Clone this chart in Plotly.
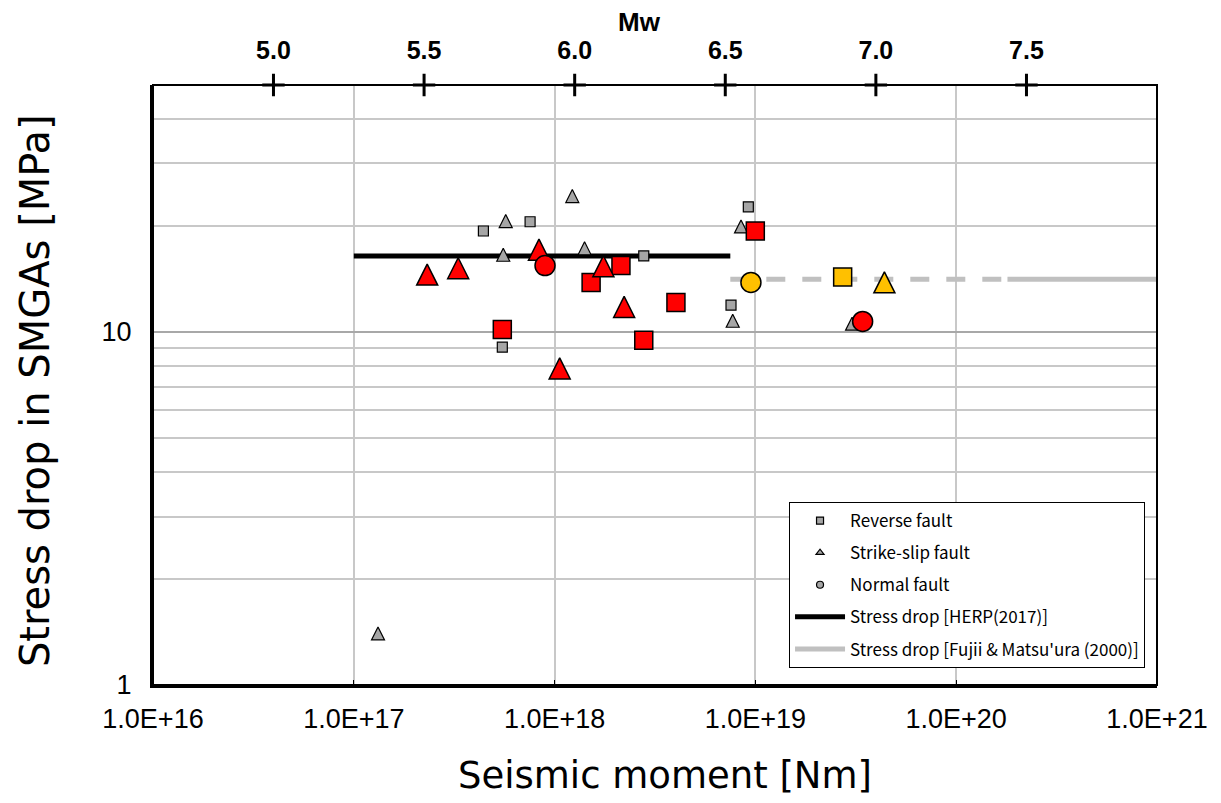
import math
import plotly.graph_objects as go

# ---- data: seismic moment M0 [Nm] and stress drop in SMGAs [MPa] ----
# gray: previous studies
rev_gray_m0 = [4.42e17, 7.55e17, 5.49e17, 2.78e18, 9.22e18, 7.56e18]
rev_gray_sd = [19.3, 20.5, 9.05, 16.4, 22.6, 11.9]
ss_gray_m0 = [1.225e18, 5.71e17, 5.55e17, 1.41e18, 8.48e18, 7.71e18, 1.32e17, 3.03e19]
ss_gray_sd = [23.9, 20.3, 16.3, 17.0, 19.6, 10.6, 1.38, 10.4]

# red
rev_red_m0 = [5.49e17, 1.52e18, 2.14e18, 4.02e18, 2.78e18, 9.99e18]
rev_red_sd = [10.15, 13.8, 15.4, 12.1, 9.47, 19.3]
ss_red_m0 = [2.32e17, 3.31e17, 8.36e17, 1.75e18, 2.22e18, 1.06e18]
ss_red_sd = [14.2, 14.8, 16.7, 15.0, 11.5, 7.70]
nf_red_m0 = [8.96e17, 3.42e19]
nf_red_sd = [15.4, 10.7]

# yellow
rev_yel_m0 = [2.72e19]
rev_yel_sd = [14.3]
ss_yel_m0 = [4.39e19]
ss_yel_sd = [13.5]
nf_yel_m0 = [9.50e18]
nf_yel_sd = [13.8]

# scaling relations
herp_m0 = [1.0e17, 7.5e18]
herp_sd = [16.4, 16.4]
fm_dash_m0 = [7.5e18, 1.8e20]
fm_solid_m0 = [1.8e20, 1.0e21]
fm_sd = [14.1, 14.1]

# axes
x_tickvals = [1e16, 1e17, 1e18, 1e19, 1e20, 1e21]
x_ticktext = ["1.0E+16", "1.0E+17", "1.0E+18", "1.0E+19", "1.0E+20", "1.0E+21"]
y_tickvals = [1, 10]
y_ticktext = ["1", "10"]
y_minor = [2, 3, 4, 5, 6, 7, 8, 9, 20, 30, 40, 50]
mw_ticks = [5.0, 5.5, 6.0, 6.5, 7.0, 7.5]
x_range = [16, 21]
y_range = [0, math.log10(50)]


def m0_to_mw(logm0):
    return (logm0 - 9.1) / 1.5


RED = "#ff0000"
YEL = "#ffc000"
GRAY = "#a6a6a6"
EDGE = dict(color="black", width=1.5)
EDGE_S = dict(color="black", width=1.2)

TICK_FONT = dict(family="Liberation Sans, Arial", size=27, color="black")

fig = go.Figure()


def tri_marker(size, color, edge):
    # upright triangle built from the rotated arrow symbol, re-centred on its centroid
    return dict(symbol="arrow-down", angle=180, standoff=2 * size / 3,
                size=size, color=color, line=edge)


# relations
fig.add_trace(go.Scatter(x=herp_m0, y=herp_sd, mode="lines",
                         line=dict(color="black", width=5),
                         name="Stress drop [HERP(2017)]", legendgroup="d", legendrank=4))
fig.add_trace(go.Scatter(x=fm_dash_m0, y=fm_sd, mode="lines",
                         line=dict(color="#c0c0c0", width=5, dash="19px,17px"),
                         showlegend=False, hoverinfo="skip"))
fig.add_trace(go.Scatter(x=fm_solid_m0, y=fm_sd, mode="lines",
                         line=dict(color="#c0c0c0", width=5),
                         name="Stress drop [Fujii & Matsu'ura (2000)]", legendgroup="e", legendrank=5))

# gray markers
fig.add_trace(go.Scatter(x=rev_gray_m0, y=rev_gray_sd, mode="markers",
                         marker=dict(symbol="square", size=10, color=GRAY, line=EDGE_S),
                         showlegend=False))
fig.add_trace(go.Scatter(x=ss_gray_m0, y=ss_gray_sd, mode="markers",
                         marker=tri_marker(13, GRAY, EDGE_S), showlegend=False))

# yellow and red markers
fig.add_trace(go.Scatter(x=rev_yel_m0, y=rev_yel_sd, mode="markers",
                         marker=dict(symbol="square", size=18, color=YEL, line=EDGE), showlegend=False))
fig.add_trace(go.Scatter(x=ss_yel_m0, y=ss_yel_sd, mode="markers",
                         marker=tri_marker(21, YEL, EDGE), showlegend=False))
fig.add_trace(go.Scatter(x=nf_yel_m0, y=nf_yel_sd, mode="markers",
                         marker=dict(symbol="circle", size=20, color=YEL, line=EDGE), showlegend=False))
fig.add_trace(go.Scatter(x=rev_red_m0, y=rev_red_sd, mode="markers",
                         marker=dict(symbol="square", size=18, color=RED, line=EDGE), showlegend=False))
fig.add_trace(go.Scatter(x=ss_red_m0, y=ss_red_sd, mode="markers",
                         marker=tri_marker(21, RED, EDGE), showlegend=False))
fig.add_trace(go.Scatter(x=nf_red_m0, y=nf_red_sd, mode="markers",
                         marker=dict(symbol="circle", size=20, color=RED, line=EDGE), showlegend=False))

# legend entries for fault types
for name, sym, grp, rank in [("Reverse fault", "square", "a", 1),
                             ("Strike-slip fault", "triangle-up", "b", 2),
                             ("Normal fault", "circle", "c", 3)]:
    fig.add_trace(go.Scatter(x=[None], y=[None], mode="markers", name=name,
                             marker=dict(symbol=sym, size=7, color=GRAY,
                                         line=dict(color="black", width=1.2)),
                             legendgroup=grp, legendrank=rank))

# Mw tick crosses on the top axis
fig.add_trace(go.Scatter(x=mw_ticks, y=[50] * len(mw_ticks), xaxis="x2", yaxis="y",
                         mode="markers", cliponaxis=False, showlegend=False, hoverinfo="skip",
                         marker=dict(symbol="cross-thin", size=16,
                                     line=dict(color="black", width=3))))

fig.update_layout(
    width=1221, height=803,
    margin=dict(l=153, r=64, t=85, b=118, autoexpand=False),
    paper_bgcolor="white", plot_bgcolor="white",
    font=dict(family="Liberation Sans, Arial", color="black"),
    showlegend=True,
    xaxis=dict(type="log", range=x_range, tickvals=x_tickvals, ticktext=x_ticktext,
               tickfont=TICK_FONT, ticks="inside", ticklen=5, tickcolor="black",
               ticklabelstandoff=8, automargin=False,
               showgrid=True, gridcolor="#c8c8c8", gridwidth=1.5,
               showline=True, linecolor="black", linewidth=3, zeroline=False),
    xaxis2=dict(overlaying="x", anchor="y", side="top",
                range=[m0_to_mw(x_range[0]), m0_to_mw(x_range[1])],
                tickvals=mw_ticks, ticktext=[f"{v:.1f}" for v in mw_ticks],
                tickfont=dict(family="Liberation Sans, Arial", size=25, color="black", weight="bold"),
                ticks="", ticklabelstandoff=20, automargin=False,
                showgrid=False, showline=False, zeroline=False),
    yaxis=dict(type="log", range=y_range, tickvals=y_tickvals, ticktext=y_ticktext,
               tickfont=TICK_FONT, ticks="", ticklabelstandoff=13, automargin=False,
               showgrid=True, gridcolor="#a8a8a8", gridwidth=1.5,
               minor=dict(tickvals=y_minor, showgrid=True, gridcolor="#c8c8c8", gridwidth=1.5, ticks=""),
               showline=True, linecolor="black", linewidth=3, zeroline=False),
    legend=dict(x=0.6335, y=0.305, xanchor="left", yanchor="top",
                bgcolor="white", bordercolor="black", borderwidth=1,
                font=dict(family="Noto Sans CJK JP, Liberation Sans", size=17, color="black"),
                tracegroupgap=7, itemwidth=50, itemsizing="trace"),
    shapes=[dict(type="rect", xref="paper", yref="paper", x0=0, y0=0, x1=1, y1=1,
                 line=dict(color="black", width=2), layer="above")],
    annotations=[
        dict(text="Seismic moment [Nm]", xref="paper", yref="paper", x=0.51, y=-0.15,
             showarrow=False, font=dict(family="DejaVu Sans", size=37, color="black"),
             xanchor="center", yanchor="middle"),
        dict(text="Stress drop in SMGAs [MPa]", xref="paper", yref="paper", x=-0.1175, y=0.49,
             showarrow=False, textangle=-90, font=dict(family="DejaVu Sans", size=40, color="black"),
             xanchor="center", yanchor="middle"),
        dict(text="<b>Mw</b>", xref="paper", yref="paper", x=0.485, y=1.105,
             showarrow=False, font=dict(family="Liberation Sans, Arial", size=26, color="black"),
             xanchor="center", yanchor="middle"),
    ],
)

fig.write_html("out.html")
